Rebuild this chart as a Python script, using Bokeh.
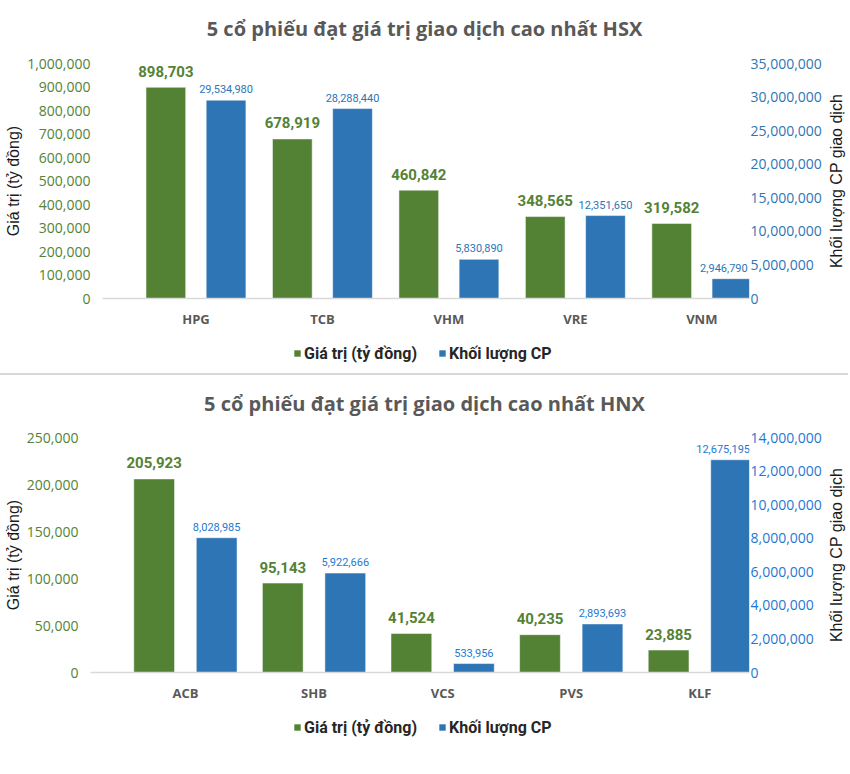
import math
from bokeh.plotting import figure
from bokeh.models import (Range1d, LinearAxis, FixedTicker, NumeralTickFormatter,
                          Legend, LegendItem, Div)
from bokeh.layouts import column, row
from bokeh.core.properties import value
from bokeh.embed import file_html
from bokeh.resources import INLINE

# ---------------- data ----------------
hsx_title = "5 cổ phiếu đạt giá trị giao dịch cao nhất HSX"
hsx_codes = ["HPG", "TCB", "VHM", "VRE", "VNM"]
hsx_value = [898703, 678919, 460842, 348565, 319582]          # Giá trị (tỷ đồng)
hsx_volume = [29534980, 28288440, 5830890, 12351650, 2946790]  # Khối lượng CP

hnx_title = "5 cổ phiếu đạt giá trị giao dịch cao nhất HNX"
hnx_codes = ["ACB", "SHB", "VCS", "PVS", "KLF"]
hnx_value = [205923, 95143, 41524, 40235, 23885]
hnx_volume = [8028985, 5922666, 533956, 2893693, 12675195]

series_names = ["Giá trị (tỷ đồng)", "Khối lượng CP"]
left_label = "Giá trị (tỷ đồng)"
right_label = "Khối lượng CP giao dịch"

GREEN = "#548235"
BLUE = "#2E75B6"
GRAY_TXT = "#595959"
LBL_FONT = "Roboto"
W = 848
W_LBL = 24
W_CHART = W - W_LBL


def bare(width, height, xr, yr):
    f = figure(width=width, height=height, output_backend="svg", toolbar_location=None,
               title=None, x_range=xr, y_range=yr,
               x_axis_location=None, y_axis_location=None,
               min_border_left=0, min_border_right=0, min_border_top=0, min_border_bottom=0)
    if "frame_align" in f.properties():
        f.frame_align = False
    f.outline_line_color = None
    f.grid.grid_line_color = None
    return f


def style_y(ax, color):
    ax.major_label_text_font = "Open Sans"
    ax.major_label_text_font_size = "14px"
    ax.major_label_text_color = color
    ax.axis_line_color = None
    ax.major_tick_line_color = None
    ax.minor_tick_line_color = None
    ax.major_tick_out = 0
    ax.major_tick_in = 0
    ax.minor_tick_out = 0
    ax.minor_tick_in = 0


def make_title(text, height=46, center_from_top=28):
    t = bare(W, height, Range1d(0, W), Range1d(0, height))
    t.text(x=[W / 2], y=[height - center_from_top], text=[text], text_align="center",
           text_baseline="middle", text_font=value("Open Sans"), text_font_style="bold",
           text_font_size="20px", text_color=GRAY_TXT)
    return t


def make_chart(codes, vals, vols, left_max, left_step, right_max, right_step,
               height, border_left, x_start, x_end, half_off, bar_w,
               right_color, frame_top, frame_bottom):
    idx = list(range(len(codes)))
    p = figure(width=W_CHART, height=height, output_backend="svg", toolbar_location=None,
               title=None, x_range=Range1d(x_start, x_end), y_range=Range1d(0, left_max),
               min_border_left=border_left, min_border_right=71,
               min_border_top=frame_top, min_border_bottom=frame_bottom)
    if "frame_align" in p.properties():
        p.frame_align = False
    p.extra_y_ranges = {"right": Range1d(0, right_max)}
    p.outline_line_color = None
    p.grid.grid_line_color = None

    gx = [i - half_off for i in idx]
    bx = [i + half_off for i in idx]
    p.vbar(x=gx, top=vals, width=bar_w, fill_color=GREEN,
           line_color="white", line_alpha=0.5, line_width=1)
    p.vbar(x=bx, top=vols, width=bar_w, fill_color=BLUE,
           line_color="white", line_alpha=0.5, line_width=1, y_range_name="right")

    p.text(x=gx, y=vals, text=[f"{v:,}" for v in vals], text_align="center",
           text_baseline="middle", y_offset=-16, text_font=value(LBL_FONT),
           text_font_style="bold", text_font_size="15px", text_color=GREEN)
    # keep the right-most small label inside the frame
    shift = [0] * (len(idx) - 1) + [-8]
    p.text(x=bx, y=vols, text=[f"{v:,}" for v in vols], text_align="center",
           text_baseline="middle", y_offset=-11, x_offset=shift, text_font=value(LBL_FONT),
           text_font_size="11px", text_color=right_color, y_range_name="right")

    # x axis
    xa = p.xaxis[0]
    xa.ticker = FixedTicker(ticks=idx)
    xa.major_label_overrides = {i: c for i, c in zip(idx, codes)}
    xa.major_label_text_font = "Open Sans"
    xa.major_label_text_font_style = "bold"
    xa.major_label_text_font_size = "13px"
    xa.major_label_text_color = GRAY_TXT
    xa.major_label_standoff = 11
    xa.axis_line_color = "#d9d9d9"
    xa.axis_line_width = 1.5
    xa.major_tick_line_color = None
    xa.minor_tick_line_color = None
    xa.major_tick_out = 0
    xa.major_tick_in = 0
    xa.minor_tick_out = 0
    xa.minor_tick_in = 0

    # left axis
    ya = p.yaxis[0]
    ya.ticker = FixedTicker(ticks=list(range(0, left_max + 1, left_step)))
    ya.formatter = NumeralTickFormatter(format="0,0")
    style_y(ya, GREEN)
    ya.axis_label = left_label
    ya.axis_label_text_font = "Liberation Sans"
    ya.axis_label_text_font_style = "normal"
    ya.axis_label_text_font_size = "16px"
    ya.axis_label_text_color = "#1a1a1a"
    ya.major_label_standoff = 12
    ya.axis_label_standoff = 2

    # right axis (its title is drawn in a narrow strip next to the chart)
    ra = LinearAxis(y_range_name="right",
                    ticker=FixedTicker(ticks=list(range(0, right_max + 1, right_step))),
                    formatter=NumeralTickFormatter(format="0,0"))
    style_y(ra, right_color)
    ra.major_label_standoff = 1
    p.add_layout(ra, "right")

    s = bare(W_LBL, height, Range1d(0, W_LBL), Range1d(0, height))
    frame_mid = frame_bottom + (height - frame_top - frame_bottom) / 2
    s.text(x=[W_LBL / 2], y=[frame_mid], text=[right_label], angle=math.pi / 2,
           text_align="center", text_baseline="middle",
           text_font=value("Liberation Sans"), text_font_size="16px", text_color="#1a1a1a")
    return row(p, s)


def make_legend(codes, vals, vols, height=30):
    lp = bare(W, height, Range1d(-20, -19), Range1d(0, 1))
    idx = list(range(len(codes)))
    # the same series, kept outside the visible range: only their legend keys show
    g = lp.vbar(x=idx, top=vals, width=0.3, fill_color=GREEN, line_color=None)
    b = lp.vbar(x=idx, top=vols, width=0.3, fill_color=BLUE, line_color=None)
    legend = Legend(items=[LegendItem(label=series_names[0], renderers=[g]),
                           LegendItem(label=series_names[1], renderers=[b])],
                    orientation="horizontal", location=(293, height - 20),
                    padding=0, margin=0, spacing=21, label_standoff=3,
                    glyph_width=8, glyph_height=8, label_height=20,
                    label_text_font=LBL_FONT, label_text_font_style="bold",
                    label_text_font_size="16px", label_text_color="#262626",
                    background_fill_alpha=0, border_line_color=None)
    lp.add_layout(legend, "center")
    return lp


top_title = make_title(hsx_title)
top = make_chart(hsx_codes, hsx_value, hsx_volume,
                 1000000, 100000, 35000000, 5000000,
                 height=297, border_left=102, x_start=-0.739, x_end=4.377,
                 half_off=0.238, bar_w=0.314, right_color=BLUE,
                 frame_top=17, frame_bottom=45)
top_legend = make_legend(hsx_codes, hsx_value, hsx_volume)

sep = Div(width=W, height=2, margin=0, styles={"background-color": "#d9d9d9"})

bottom_title = make_title(hnx_title)
bottom = make_chart(hnx_codes, hnx_value, hnx_volume,
                    250000, 50000, 14000000, 2000000,
                    height=296, border_left=90, x_start=-0.738, x_end=4.386,
                    half_off=0.243, bar_w=0.317, right_color="#1E78D2",
                    frame_top=16, frame_bottom=45)
bottom_legend = make_legend(hnx_codes, hnx_value, hnx_volume)

layout = column(top_title, top, top_legend, sep, bottom_title, bottom, bottom_legend)
open("out.html", "w").write(file_html(layout, INLINE))
